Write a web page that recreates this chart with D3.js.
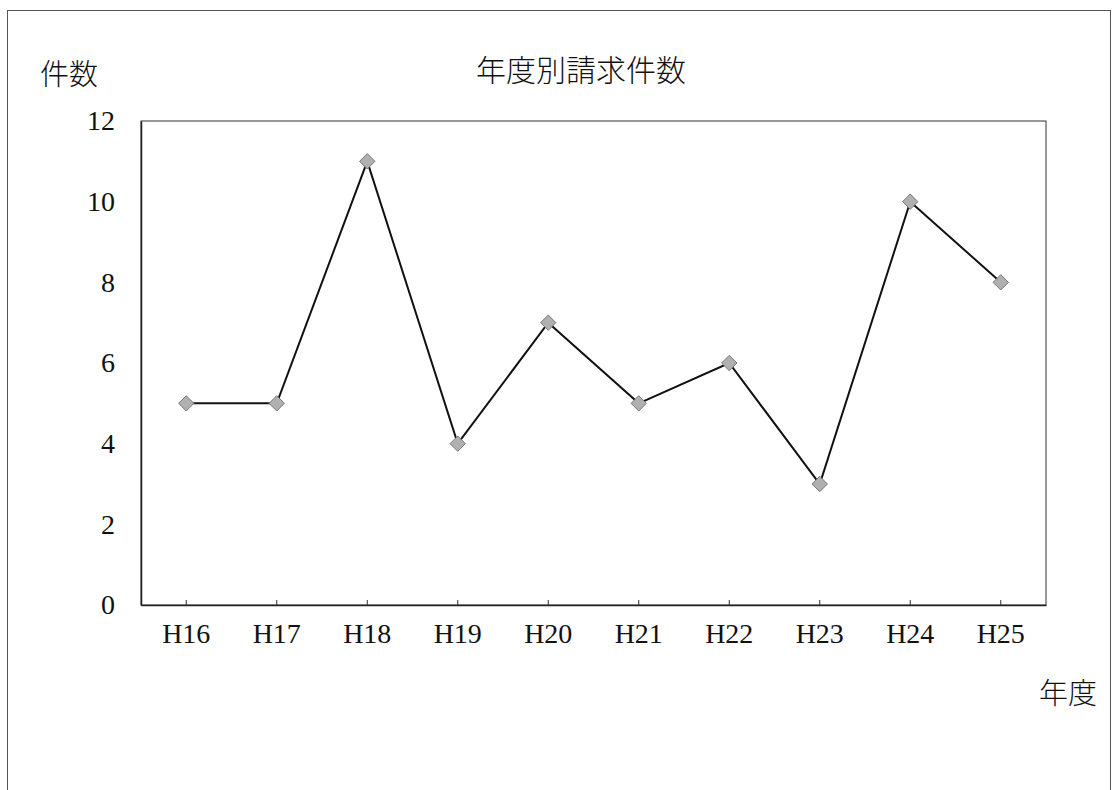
<!doctype html>
<html lang="ja">
<head>
<meta charset="utf-8">
<script src="https://d3js.org/d3.v7.min.js"></script>
<title>年度別請求件数</title>
<style>
  body { margin: 0; background: #fff; }
  text { fill: #111; }
  .serif { font-family: "Liberation Serif", "DejaVu Serif", serif; }
  .jp { font-family: "Noto Sans CJK JP", sans-serif; font-weight: 300; }
</style>
</head>
<body>
<div id="chart"></div>
<script>
const years = ['H16', 'H17', 'H18', 'H19', 'H20', 'H21', 'H22', 'H23', 'H24', 'H25'];
const counts = [5, 5, 11, 4, 7, 5, 6, 3, 10, 8];
const yTicks = [0, 2, 4, 6, 8, 10, 12];

const width = 1118, height = 790;
const plot = {left: 141, right: 1046, top: 121, bottom: 605};

const svg = d3.select('#chart').append('svg')
    .attr('width', width)
    .attr('height', height);

// outer frame
svg.append('rect')
    .attr('x', 7.5).attr('y', 10.5)
    .attr('width', 1103).attr('height', 800)
    .attr('fill', 'none').attr('stroke', '#555').attr('stroke-width', 1);

const x = d3.scaleBand()
    .domain(years)
    .range([plot.left, plot.right]);

const y = d3.scaleLinear()
    .domain([0, 12])
    .range([plot.bottom, plot.top]);

// plot area box
svg.append('rect')
    .attr('x', plot.left).attr('y', plot.top)
    .attr('width', plot.right - plot.left).attr('height', plot.bottom - plot.top)
    .attr('fill', 'none').attr('stroke', '#333').attr('stroke-width', 1);

const yAxis = svg.append('g')
    .attr('class', 'serif')
    .attr('transform', 'translate(' + plot.left + ',0)')
    .call(d3.axisLeft(y).tickValues(yTicks).tickSize(0).tickPadding(26));
yAxis.select('.domain').attr('stroke', '#222').attr('stroke-width', 1.5);
yAxis.selectAll('text').style('font-size', '28px').attr('fill', '#111');

const xAxis = svg.append('g')
    .attr('class', 'serif')
    .attr('transform', 'translate(0,' + plot.bottom + ')')
    .call(d3.axisBottom(x).tickSizeInner(-5).tickSizeOuter(0).tickPadding(18));
xAxis.select('.domain').attr('stroke', '#222').attr('stroke-width', 1.5);
xAxis.selectAll('.tick line').attr('stroke', '#333');
xAxis.selectAll('text').style('font-size', '28px').attr('fill', '#111');

const cx = d => x(d) + x.bandwidth() / 2;

const line = d3.line()
    .x((d, i) => cx(years[i]))
    .y(d => y(d));

svg.append('path')
    .datum(counts)
    .attr('d', line)
    .attr('fill', 'none')
    .attr('stroke', '#111')
    .attr('stroke-width', 2);

svg.selectAll('.marker')
    .data(counts)
    .enter()
    .append('path')
    .attr('class', 'marker')
    .attr('d', d3.symbol().type(d3.symbolDiamond2).size(150))
    .attr('transform', (d, i) => 'translate(' + cx(years[i]) + ',' + y(d) + ')')
    .attr('fill', '#b0b0b0')
    .attr('stroke', '#777')
    .attr('stroke-width', 1);

svg.append('text')
    .attr('class', 'jp')
    .attr('x', 581).attr('y', 81)
    .attr('text-anchor', 'middle')
    .style('font-size', '30px')
    .text('年度別請求件数');

svg.append('text')
    .attr('class', 'jp')
    .attr('x', 40).attr('y', 85)
    .style('font-size', '29px')
    .text('件数');

svg.append('text')
    .attr('class', 'jp')
    .attr('x', 1039).attr('y', 704)
    .style('font-size', '29px')
    .text('年度');
</script>
</body>
</html>
